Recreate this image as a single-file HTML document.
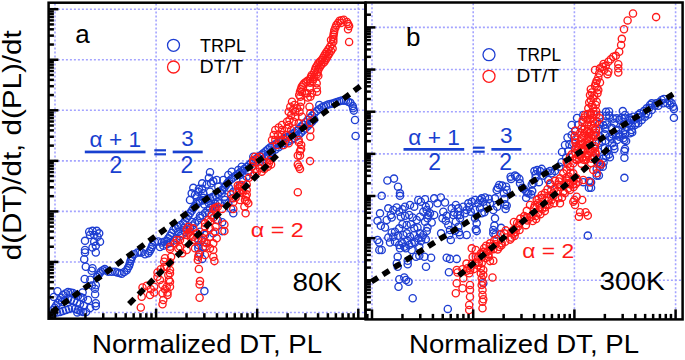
<!DOCTYPE html><html><head><meta charset="utf-8"><style>html,body{margin:0;padding:0;background:#fff;width:685px;height:360px;overflow:hidden}svg{display:block}text{font-family:"Liberation Sans",sans-serif}</style></head><body>
<svg width="685" height="360" viewBox="0 0 685 360">
<rect width="685" height="360" fill="#fff"/>
<g stroke="#a4a4ff" stroke-width="1.6" stroke-dasharray="2 2"><line x1="55.00" y1="3.40" x2="55.00" y2="317.40"/><line x1="156.10" y1="3.40" x2="156.10" y2="317.40"/><line x1="257.20" y1="3.40" x2="257.20" y2="317.40"/><line x1="358.30" y1="3.40" x2="358.30" y2="317.40"/><line x1="49.90" y1="9.20" x2="364.10" y2="9.20"/><line x1="49.90" y1="59.75" x2="364.10" y2="59.75"/><line x1="49.90" y1="110.30" x2="364.10" y2="110.30"/><line x1="49.90" y1="160.85" x2="364.10" y2="160.85"/><line x1="49.90" y1="211.40" x2="364.10" y2="211.40"/><line x1="49.90" y1="261.95" x2="364.10" y2="261.95"/><line x1="49.90" y1="312.50" x2="364.10" y2="312.50"/></g>
<g stroke="#a4a4ff" stroke-width="1.6" stroke-dasharray="2 2"><line x1="372.00" y1="3.20" x2="372.00" y2="318.10"/><line x1="473.20" y1="3.20" x2="473.20" y2="318.10"/><line x1="574.40" y1="3.20" x2="574.40" y2="318.10"/><line x1="675.60" y1="3.20" x2="675.60" y2="318.10"/><line x1="366.90" y1="27.40" x2="681.30" y2="27.40"/><line x1="366.90" y1="69.55" x2="681.30" y2="69.55"/><line x1="366.90" y1="111.70" x2="681.30" y2="111.70"/><line x1="366.90" y1="153.85" x2="681.30" y2="153.85"/><line x1="366.90" y1="196.00" x2="681.30" y2="196.00"/><line x1="366.90" y1="238.15" x2="681.30" y2="238.15"/><line x1="366.90" y1="280.30" x2="681.30" y2="280.30"/></g>
<g fill="none" stroke="#1e3ed2" stroke-width="1.35"><circle cx="53.0" cy="310.0" r="3.6"/><circle cx="54.7" cy="307.7" r="3.6"/><circle cx="56.3" cy="305.3" r="3.6"/><circle cx="58.0" cy="303.0" r="3.6"/><circle cx="59.7" cy="300.3" r="3.6"/><circle cx="61.3" cy="297.7" r="3.6"/><circle cx="63.0" cy="295.0" r="3.6"/><circle cx="65.5" cy="293.5" r="3.6"/><circle cx="68.0" cy="292.0" r="3.6"/><circle cx="70.5" cy="292.5" r="3.6"/><circle cx="73.0" cy="293.0" r="3.6"/><circle cx="75.5" cy="294.5" r="3.6"/><circle cx="78.0" cy="296.0" r="3.6"/><circle cx="80.5" cy="297.0" r="3.6"/><circle cx="83.0" cy="298.0" r="3.6"/><circle cx="54.0" cy="313.0" r="3.6"/><circle cx="57.0" cy="312.5" r="3.6"/><circle cx="60.0" cy="312.0" r="3.6"/><circle cx="63.0" cy="311.0" r="3.6"/><circle cx="66.0" cy="310.0" r="3.6"/><circle cx="69.0" cy="309.0" r="3.6"/><circle cx="72.0" cy="308.0" r="3.6"/><circle cx="75.0" cy="309.0" r="3.6"/><circle cx="78.0" cy="310.0" r="3.6"/><circle cx="80.5" cy="311.0" r="3.6"/><circle cx="83.0" cy="312.0" r="3.6"/><circle cx="62.0" cy="302.0" r="3.6"/><circle cx="65.0" cy="300.5" r="3.6"/><circle cx="68.0" cy="299.0" r="3.6"/><circle cx="71.0" cy="300.0" r="3.6"/><circle cx="74.0" cy="301.0" r="3.6"/><circle cx="77.0" cy="302.5" r="3.6"/><circle cx="80.0" cy="304.0" r="3.6"/><circle cx="84.0" cy="306.0" r="3.6"/><circle cx="57.5" cy="291.3" r="3.6"/><circle cx="53.8" cy="296.9" r="3.6"/><circle cx="84.7" cy="279.0" r="3.6"/><circle cx="90.3" cy="279.7" r="3.6"/><circle cx="95.8" cy="285.3" r="3.6"/><circle cx="95.1" cy="294.3" r="3.6"/><circle cx="95.8" cy="303.3" r="3.6"/><circle cx="95.8" cy="306.1" r="3.6"/><circle cx="91.7" cy="270.7" r="3.6"/><circle cx="94.9" cy="288.7" r="3.6"/><circle cx="91.8" cy="285.6" r="3.6"/><circle cx="82.6" cy="292.5" r="3.6"/><circle cx="77.3" cy="312.4" r="3.6"/><circle cx="88.0" cy="300.0" r="3.6"/><circle cx="90.0" cy="308.0" r="3.6"/><circle cx="86.0" cy="312.0" r="3.6"/><circle cx="89.2" cy="231.7" r="3.6"/><circle cx="92.5" cy="230.8" r="3.6"/><circle cx="96.7" cy="230.8" r="3.6"/><circle cx="99.2" cy="233.3" r="3.6"/><circle cx="94.2" cy="235.0" r="3.6"/><circle cx="90.0" cy="235.0" r="3.6"/><circle cx="97.5" cy="236.7" r="3.6"/><circle cx="85.0" cy="240.8" r="3.6"/><circle cx="94.2" cy="241.7" r="3.6"/><circle cx="100.0" cy="241.7" r="3.6"/><circle cx="95.8" cy="245.8" r="3.6"/><circle cx="92.5" cy="247.5" r="3.6"/><circle cx="95.8" cy="252.5" r="3.6"/><circle cx="85.0" cy="250.0" r="3.6"/><circle cx="85.0" cy="252.5" r="3.6"/><circle cx="84.2" cy="259.2" r="3.6"/><circle cx="85.8" cy="266.7" r="3.6"/><circle cx="92.5" cy="268.3" r="3.6"/><circle cx="97.0" cy="277.0" r="3.6"/><circle cx="98.3" cy="275.2" r="3.6"/><circle cx="99.7" cy="273.3" r="3.6"/><circle cx="101.0" cy="271.5" r="3.6"/><circle cx="102.9" cy="270.2" r="3.6"/><circle cx="104.8" cy="269.0" r="3.6"/><circle cx="106.5" cy="270.4" r="3.6"/><circle cx="108.3" cy="271.7" r="3.6"/><circle cx="111.7" cy="271.7" r="3.6"/><circle cx="115.0" cy="271.7" r="3.6"/><circle cx="117.2" cy="272.4" r="3.6"/><circle cx="119.5" cy="273.0" r="3.6"/><circle cx="121.7" cy="273.7" r="3.6"/><circle cx="124.2" cy="272.0" r="3.6"/><circle cx="126.7" cy="270.3" r="3.6"/><circle cx="127.8" cy="268.1" r="3.6"/><circle cx="129.0" cy="266.0" r="3.6"/><circle cx="129.8" cy="263.5" r="3.6"/><circle cx="130.5" cy="261.0" r="3.6"/><circle cx="131.2" cy="259.0" r="3.6"/><circle cx="132.0" cy="257.0" r="3.6"/><circle cx="134.2" cy="254.2" r="3.6"/><circle cx="137.5" cy="252.5" r="3.6"/><circle cx="139.6" cy="252.5" r="3.6"/><circle cx="141.7" cy="252.5" r="3.6"/><circle cx="145.0" cy="254.2" r="3.6"/><circle cx="148.3" cy="253.3" r="3.6"/><circle cx="149.6" cy="251.2" r="3.6"/><circle cx="150.8" cy="249.2" r="3.6"/><circle cx="151.7" cy="247.1" r="3.6"/><circle cx="152.5" cy="245.0" r="3.6"/><circle cx="155.0" cy="242.0" r="3.6"/><circle cx="158.3" cy="241.5" r="3.6"/><circle cx="161.7" cy="242.5" r="3.6"/><circle cx="164.2" cy="241.7" r="3.6"/><circle cx="166.7" cy="240.8" r="3.6"/><circle cx="168.3" cy="238.3" r="3.6"/><circle cx="170.0" cy="235.8" r="3.6"/><circle cx="171.7" cy="232.9" r="3.6"/><circle cx="173.3" cy="230.0" r="3.6"/><circle cx="175.8" cy="228.3" r="3.6"/><circle cx="178.3" cy="226.7" r="3.6"/><circle cx="180.8" cy="225.0" r="3.6"/><circle cx="183.3" cy="223.3" r="3.6"/><circle cx="185.0" cy="220.8" r="3.6"/><circle cx="186.7" cy="218.3" r="3.6"/><circle cx="188.3" cy="215.8" r="3.6"/><circle cx="190.0" cy="213.3" r="3.6"/><circle cx="191.7" cy="210.8" r="3.6"/><circle cx="193.3" cy="208.3" r="3.6"/><circle cx="195.0" cy="206.2" r="3.6"/><circle cx="196.7" cy="204.0" r="3.6"/><circle cx="198.3" cy="202.5" r="3.6"/><circle cx="200.0" cy="201.0" r="3.6"/><circle cx="202.5" cy="200.5" r="3.6"/><circle cx="205.0" cy="200.0" r="3.6"/><circle cx="207.5" cy="199.0" r="3.6"/><circle cx="210.0" cy="198.0" r="3.6"/><circle cx="212.8" cy="196.8" r="3.6"/><circle cx="215.6" cy="195.6" r="3.6"/><circle cx="217.8" cy="193.8" r="3.6"/><circle cx="220.0" cy="192.0" r="3.6"/><circle cx="222.2" cy="189.8" r="3.6"/><circle cx="224.4" cy="187.5" r="3.6"/><circle cx="225.9" cy="185.3" r="3.6"/><circle cx="227.4" cy="183.2" r="3.6"/><circle cx="228.9" cy="181.0" r="3.6"/><circle cx="231.1" cy="179.2" r="3.6"/><circle cx="233.3" cy="177.5" r="3.6"/><circle cx="235.5" cy="175.8" r="3.6"/><circle cx="237.8" cy="174.2" r="3.6"/><circle cx="240.0" cy="172.5" r="3.6"/><circle cx="242.2" cy="170.7" r="3.6"/><circle cx="244.5" cy="168.8" r="3.6"/><circle cx="246.7" cy="167.0" r="3.6"/><circle cx="248.9" cy="165.0" r="3.6"/><circle cx="251.1" cy="163.1" r="3.6"/><circle cx="253.3" cy="161.1" r="3.6"/><circle cx="255.6" cy="159.3" r="3.6"/><circle cx="257.8" cy="157.5" r="3.6"/><circle cx="259.6" cy="156.1" r="3.6"/><circle cx="261.5" cy="154.7" r="3.6"/><circle cx="263.3" cy="153.3" r="3.6"/><circle cx="265.5" cy="151.4" r="3.6"/><circle cx="267.8" cy="149.4" r="3.6"/><circle cx="270.0" cy="147.5" r="3.6"/><circle cx="272.2" cy="146.1" r="3.6"/><circle cx="274.5" cy="144.7" r="3.6"/><circle cx="276.7" cy="143.3" r="3.6"/><circle cx="278.9" cy="141.9" r="3.6"/><circle cx="281.1" cy="140.4" r="3.6"/><circle cx="283.3" cy="139.0" r="3.6"/><circle cx="285.5" cy="137.9" r="3.6"/><circle cx="287.8" cy="136.7" r="3.6"/><circle cx="290.0" cy="135.6" r="3.6"/><circle cx="292.2" cy="134.1" r="3.6"/><circle cx="294.5" cy="132.5" r="3.6"/><circle cx="296.7" cy="131.0" r="3.6"/><circle cx="298.9" cy="128.8" r="3.6"/><circle cx="301.1" cy="126.6" r="3.6"/><circle cx="303.3" cy="124.4" r="3.6"/><circle cx="305.6" cy="122.2" r="3.6"/><circle cx="307.8" cy="120.0" r="3.6"/><circle cx="310.0" cy="117.8" r="3.6"/><circle cx="312.2" cy="115.6" r="3.6"/><circle cx="314.4" cy="113.3" r="3.6"/><circle cx="316.7" cy="111.1" r="3.6"/><circle cx="319.1" cy="109.3" r="3.6"/><circle cx="321.6" cy="107.5" r="3.6"/><circle cx="323.8" cy="106.5" r="3.6"/><circle cx="326.0" cy="105.5" r="3.6"/><circle cx="328.2" cy="104.5" r="3.6"/><circle cx="330.4" cy="103.9" r="3.6"/><circle cx="332.7" cy="103.4" r="3.6"/><circle cx="334.9" cy="102.8" r="3.6"/><circle cx="337.1" cy="102.1" r="3.6"/><circle cx="339.4" cy="101.3" r="3.6"/><circle cx="341.6" cy="100.6" r="3.6"/><circle cx="343.8" cy="100.6" r="3.6"/><circle cx="346.0" cy="100.6" r="3.6"/><circle cx="348.2" cy="101.7" r="3.6"/><circle cx="350.4" cy="102.8" r="3.6"/><circle cx="352.7" cy="106.1" r="3.6"/><circle cx="353.2" cy="108.3" r="3.6"/><circle cx="353.8" cy="110.6" r="3.6"/><circle cx="259.8" cy="161.5" r="3.6"/><circle cx="262.6" cy="159.4" r="3.6"/><circle cx="265.3" cy="157.3" r="3.6"/><circle cx="267.5" cy="155.4" r="3.6"/><circle cx="269.8" cy="153.4" r="3.6"/><circle cx="272.0" cy="151.5" r="3.6"/><circle cx="275.4" cy="149.4" r="3.6"/><circle cx="278.7" cy="147.3" r="3.6"/><circle cx="282.0" cy="145.2" r="3.6"/><circle cx="285.3" cy="143.0" r="3.6"/><circle cx="288.6" cy="141.3" r="3.6"/><circle cx="292.0" cy="139.6" r="3.6"/><circle cx="294.2" cy="138.1" r="3.6"/><circle cx="296.5" cy="136.5" r="3.6"/><circle cx="298.7" cy="135.0" r="3.6"/><circle cx="300.9" cy="132.8" r="3.6"/><circle cx="303.1" cy="130.6" r="3.6"/><circle cx="305.3" cy="128.4" r="3.6"/><circle cx="307.6" cy="126.2" r="3.6"/><circle cx="309.8" cy="124.0" r="3.6"/><circle cx="312.0" cy="121.8" r="3.6"/><circle cx="314.2" cy="119.6" r="3.6"/><circle cx="355.0" cy="120.0" r="3.6"/><circle cx="216.7" cy="180.0" r="3.6"/><circle cx="218.3" cy="186.7" r="3.6"/><circle cx="221.7" cy="193.3" r="3.6"/><circle cx="228.3" cy="175.0" r="3.6"/><circle cx="231.7" cy="171.7" r="3.6"/><circle cx="238.3" cy="170.0" r="3.6"/><circle cx="241.7" cy="166.7" r="3.6"/><circle cx="248.3" cy="171.7" r="3.6"/><circle cx="246.7" cy="176.7" r="3.6"/><circle cx="243.3" cy="180.0" r="3.6"/><circle cx="251.7" cy="166.7" r="3.6"/><circle cx="253.3" cy="156.7" r="3.6"/><circle cx="225.0" cy="200.0" r="3.6"/><circle cx="231.7" cy="198.3" r="3.6"/><circle cx="220.0" cy="203.3" r="3.6"/><circle cx="228.3" cy="203.3" r="3.6"/><circle cx="233.3" cy="191.7" r="3.6"/><circle cx="240.0" cy="185.0" r="3.6"/><circle cx="236.7" cy="191.7" r="3.6"/><circle cx="223.3" cy="180.0" r="3.6"/><circle cx="240.0" cy="175.0" r="3.6"/><circle cx="160.0" cy="247.0" r="3.6"/><circle cx="163.3" cy="245.7" r="3.6"/><circle cx="166.7" cy="244.3" r="3.6"/><circle cx="170.0" cy="243.0" r="3.6"/><circle cx="173.3" cy="240.7" r="3.6"/><circle cx="176.7" cy="238.3" r="3.6"/><circle cx="180.0" cy="236.0" r="3.6"/><circle cx="182.5" cy="234.0" r="3.6"/><circle cx="185.0" cy="232.0" r="3.6"/><circle cx="187.5" cy="230.0" r="3.6"/><circle cx="190.0" cy="228.0" r="3.6"/><circle cx="192.5" cy="225.5" r="3.6"/><circle cx="195.0" cy="223.0" r="3.6"/><circle cx="197.5" cy="220.5" r="3.6"/><circle cx="200.0" cy="218.0" r="3.6"/><circle cx="202.5" cy="215.5" r="3.6"/><circle cx="205.0" cy="213.0" r="3.6"/><circle cx="207.5" cy="210.5" r="3.6"/><circle cx="210.0" cy="208.0" r="3.6"/><circle cx="212.7" cy="206.0" r="3.6"/><circle cx="215.3" cy="204.0" r="3.6"/><circle cx="218.0" cy="202.0" r="3.6"/><circle cx="190.0" cy="200.0" r="3.6"/><circle cx="191.7" cy="193.3" r="3.6"/><circle cx="195.0" cy="195.0" r="3.6"/><circle cx="198.3" cy="191.7" r="3.6"/><circle cx="203.3" cy="193.3" r="3.6"/><circle cx="210.0" cy="191.7" r="3.6"/><circle cx="215.0" cy="206.7" r="3.6"/><circle cx="200.0" cy="231.7" r="3.6"/><circle cx="205.0" cy="235.0" r="3.6"/><circle cx="201.7" cy="240.0" r="3.6"/><circle cx="198.3" cy="245.0" r="3.6"/><circle cx="203.3" cy="246.7" r="3.6"/><circle cx="355.6" cy="136.0" r="3.6"/><circle cx="319.3" cy="105.0" r="3.6"/><circle cx="210.0" cy="172.2" r="3.6"/><circle cx="208.9" cy="177.8" r="3.6"/><circle cx="211.1" cy="183.3" r="3.6"/><circle cx="202.2" cy="183.3" r="3.6"/><circle cx="198.9" cy="188.9" r="3.6"/><circle cx="193.3" cy="187.8" r="3.6"/><circle cx="196.7" cy="196.7" r="3.6"/><circle cx="208.9" cy="203.3" r="3.6"/><circle cx="213.3" cy="181.1" r="3.6"/><circle cx="206.7" cy="184.4" r="3.6"/><circle cx="202.2" cy="188.9" r="3.6"/><circle cx="203.3" cy="197.8" r="3.6"/><circle cx="204.4" cy="204.4" r="3.6"/><circle cx="208.9" cy="213.3" r="3.6"/><circle cx="217.8" cy="220.0" r="3.6"/><circle cx="222.2" cy="222.2" r="3.6"/><circle cx="222.2" cy="231.1" r="3.6"/><circle cx="213.3" cy="233.3" r="3.6"/><circle cx="231.1" cy="208.9" r="3.6"/><circle cx="233.3" cy="213.3" r="3.6"/><circle cx="228.9" cy="187.8" r="3.6"/><circle cx="224.4" cy="196.7" r="3.6"/><circle cx="198.3" cy="248.3" r="3.6"/><circle cx="200.0" cy="253.3" r="3.6"/><circle cx="198.3" cy="240.0" r="3.6"/><circle cx="202.2" cy="258.9" r="3.6"/><circle cx="204.4" cy="291.1" r="3.6"/><circle cx="178.0" cy="232.0" r="3.6"/><circle cx="184.0" cy="228.0" r="3.6"/><circle cx="192.0" cy="222.0" r="3.6"/><circle cx="200.0" cy="216.0" r="3.6"/></g>
<g fill="none" stroke="#ff1a1a" stroke-width="1.35"><circle cx="140.8" cy="307.5" r="3.6"/><circle cx="141.7" cy="296.7" r="3.6"/><circle cx="142.5" cy="287.5" r="3.6"/><circle cx="146.7" cy="285.8" r="3.6"/><circle cx="150.8" cy="289.2" r="3.6"/><circle cx="150.0" cy="295.0" r="3.6"/><circle cx="154.2" cy="292.5" r="3.6"/><circle cx="154.2" cy="286.7" r="3.6"/><circle cx="157.5" cy="276.7" r="3.6"/><circle cx="160.0" cy="280.0" r="3.6"/><circle cx="162.5" cy="285.0" r="3.6"/><circle cx="165.0" cy="289.2" r="3.6"/><circle cx="167.5" cy="292.5" r="3.6"/><circle cx="162.5" cy="293.3" r="3.6"/><circle cx="163.3" cy="300.0" r="3.6"/><circle cx="162.5" cy="304.2" r="3.6"/><circle cx="164.2" cy="261.7" r="3.6"/><circle cx="166.7" cy="266.7" r="3.6"/><circle cx="170.0" cy="270.0" r="3.6"/><circle cx="168.3" cy="275.0" r="3.6"/><circle cx="160.8" cy="269.2" r="3.6"/><circle cx="157.5" cy="272.5" r="3.6"/><circle cx="170.0" cy="281.7" r="3.6"/><circle cx="170.0" cy="286.7" r="3.6"/><circle cx="167.5" cy="295.0" r="3.6"/><circle cx="166.7" cy="286.7" r="3.6"/><circle cx="168.9" cy="280.0" r="3.6"/><circle cx="170.0" cy="273.3" r="3.6"/><circle cx="164.4" cy="266.7" r="3.6"/><circle cx="170.0" cy="262.2" r="3.6"/><circle cx="171.1" cy="256.7" r="3.6"/><circle cx="170.0" cy="248.9" r="3.6"/><circle cx="165.0" cy="258.3" r="3.6"/><circle cx="176.7" cy="240.0" r="3.6"/><circle cx="178.3" cy="248.3" r="3.6"/><circle cx="185.0" cy="241.7" r="3.6"/><circle cx="180.0" cy="246.7" r="3.6"/><circle cx="182.2" cy="253.3" r="3.6"/><circle cx="186.7" cy="250.0" r="3.6"/><circle cx="238.3" cy="188.3" r="3.6"/><circle cx="241.7" cy="185.0" r="3.6"/><circle cx="243.3" cy="191.7" r="3.6"/><circle cx="246.7" cy="190.0" r="3.6"/><circle cx="245.8" cy="196.7" r="3.6"/><circle cx="245.0" cy="200.0" r="3.6"/><circle cx="248.3" cy="203.3" r="3.6"/><circle cx="240.0" cy="200.0" r="3.6"/><circle cx="256.7" cy="171.7" r="3.6"/><circle cx="260.0" cy="168.3" r="3.6"/><circle cx="261.7" cy="171.7" r="3.6"/><circle cx="253.3" cy="160.0" r="3.6"/><circle cx="255.0" cy="156.7" r="3.6"/><circle cx="260.0" cy="156.7" r="3.6"/><circle cx="233.3" cy="198.3" r="3.6"/><circle cx="215.0" cy="210.0" r="3.6"/><circle cx="211.7" cy="215.0" r="3.6"/><circle cx="216.7" cy="220.0" r="3.6"/><circle cx="208.3" cy="220.0" r="3.6"/><circle cx="205.0" cy="223.3" r="3.6"/><circle cx="210.0" cy="228.3" r="3.6"/><circle cx="215.0" cy="231.7" r="3.6"/><circle cx="216.7" cy="238.3" r="3.6"/><circle cx="213.3" cy="243.3" r="3.6"/><circle cx="206.7" cy="243.3" r="3.6"/><circle cx="203.3" cy="238.3" r="3.6"/><circle cx="193.3" cy="228.3" r="3.6"/><circle cx="190.0" cy="231.7" r="3.6"/><circle cx="186.7" cy="235.0" r="3.6"/><circle cx="193.3" cy="236.7" r="3.6"/><circle cx="198.3" cy="240.0" r="3.6"/><circle cx="180.0" cy="240.0" r="3.6"/><circle cx="175.0" cy="243.3" r="3.6"/><circle cx="170.0" cy="246.7" r="3.6"/><circle cx="195.0" cy="248.3" r="3.6"/><circle cx="188.3" cy="226.7" r="3.6"/><circle cx="196.7" cy="233.3" r="3.6"/><circle cx="186.7" cy="229.2" r="3.6"/><circle cx="188.3" cy="233.3" r="3.6"/><circle cx="190.8" cy="235.8" r="3.6"/><circle cx="195.0" cy="240.0" r="3.6"/><circle cx="210.0" cy="236.7" r="3.6"/><circle cx="205.0" cy="226.7" r="3.6"/><circle cx="210.0" cy="221.7" r="3.6"/><circle cx="210.0" cy="248.3" r="3.6"/><circle cx="205.0" cy="255.0" r="3.6"/><circle cx="198.3" cy="256.7" r="3.6"/><circle cx="198.9" cy="254.4" r="3.6"/><circle cx="197.8" cy="260.0" r="3.6"/><circle cx="198.9" cy="268.9" r="3.6"/><circle cx="200.0" cy="281.1" r="3.6"/><circle cx="199.6" cy="284.4" r="3.6"/><circle cx="199.6" cy="297.8" r="3.6"/><circle cx="204.4" cy="242.2" r="3.6"/><circle cx="205.6" cy="246.7" r="3.6"/><circle cx="213.3" cy="250.0" r="3.6"/><circle cx="213.3" cy="256.7" r="3.6"/><circle cx="214.4" cy="261.1" r="3.6"/><circle cx="213.3" cy="208.9" r="3.6"/><circle cx="217.8" cy="206.7" r="3.6"/><circle cx="222.2" cy="208.9" r="3.6"/><circle cx="213.3" cy="217.8" r="3.6"/><circle cx="224.4" cy="224.4" r="3.6"/><circle cx="224.4" cy="231.1" r="3.6"/><circle cx="215.6" cy="226.7" r="3.6"/><circle cx="204.4" cy="233.3" r="3.6"/><circle cx="215.6" cy="207.8" r="3.6"/><circle cx="233.3" cy="202.2" r="3.6"/><circle cx="235.6" cy="197.8" r="3.6"/><circle cx="233.3" cy="208.9" r="3.6"/><circle cx="238.9" cy="191.1" r="3.6"/><circle cx="244.4" cy="206.7" r="3.6"/><circle cx="245.6" cy="213.3" r="3.6"/><circle cx="240.0" cy="186.7" r="3.6"/><circle cx="246.7" cy="184.4" r="3.6"/><circle cx="231.1" cy="194.4" r="3.6"/><circle cx="237.8" cy="185.6" r="3.6"/><circle cx="242.2" cy="190.0" r="3.6"/><circle cx="246.7" cy="194.4" r="3.6"/><circle cx="246.7" cy="201.1" r="3.6"/><circle cx="253.3" cy="162.2" r="3.6"/><circle cx="255.6" cy="168.9" r="3.6"/><circle cx="266.7" cy="162.2" r="3.6"/><circle cx="271.1" cy="164.4" r="3.6"/><circle cx="264.4" cy="168.9" r="3.6"/><circle cx="253.3" cy="175.6" r="3.6"/><circle cx="248.9" cy="177.8" r="3.6"/><circle cx="257.8" cy="158.9" r="3.6"/><circle cx="252.2" cy="166.7" r="3.6"/><circle cx="263.3" cy="162.2" r="3.6"/><circle cx="270.0" cy="160.0" r="3.6"/><circle cx="267.8" cy="166.7" r="3.6"/><circle cx="268.9" cy="163.3" r="3.6"/><circle cx="310.3" cy="96.7" r="3.6"/><circle cx="309.5" cy="106.7" r="3.6"/><circle cx="310.3" cy="113.3" r="3.6"/><circle cx="310.3" cy="130.0" r="3.6"/><circle cx="310.3" cy="136.7" r="3.6"/><circle cx="302.0" cy="91.7" r="3.6"/><circle cx="300.3" cy="96.7" r="3.6"/><circle cx="301.2" cy="101.7" r="3.6"/><circle cx="300.3" cy="106.7" r="3.6"/><circle cx="299.5" cy="111.7" r="3.6"/><circle cx="302.0" cy="116.7" r="3.6"/><circle cx="298.7" cy="123.3" r="3.6"/><circle cx="298.7" cy="140.0" r="3.6"/><circle cx="301.2" cy="145.0" r="3.6"/><circle cx="307.0" cy="93.3" r="3.6"/><circle cx="312.0" cy="93.3" r="3.6"/><circle cx="317.0" cy="91.7" r="3.6"/><circle cx="307.8" cy="97.5" r="3.6"/><circle cx="292.0" cy="101.7" r="3.6"/><circle cx="294.5" cy="105.0" r="3.6"/><circle cx="290.3" cy="106.7" r="3.6"/><circle cx="292.8" cy="110.0" r="3.6"/><circle cx="288.7" cy="111.7" r="3.6"/><circle cx="295.3" cy="111.7" r="3.6"/><circle cx="291.2" cy="115.0" r="3.6"/><circle cx="295.3" cy="116.7" r="3.6"/><circle cx="289.5" cy="120.0" r="3.6"/><circle cx="293.7" cy="121.7" r="3.6"/><circle cx="288.7" cy="125.0" r="3.6"/><circle cx="291.2" cy="130.0" r="3.6"/><circle cx="287.0" cy="128.3" r="3.6"/><circle cx="275.3" cy="130.0" r="3.6"/><circle cx="278.7" cy="127.5" r="3.6"/><circle cx="282.0" cy="130.0" r="3.6"/><circle cx="273.7" cy="135.0" r="3.6"/><circle cx="277.8" cy="135.0" r="3.6"/><circle cx="282.0" cy="135.0" r="3.6"/><circle cx="286.2" cy="135.0" r="3.6"/><circle cx="275.3" cy="140.0" r="3.6"/><circle cx="280.3" cy="140.0" r="3.6"/><circle cx="285.3" cy="140.0" r="3.6"/><circle cx="277.0" cy="145.0" r="3.6"/><circle cx="283.7" cy="145.0" r="3.6"/><circle cx="288.7" cy="143.3" r="3.6"/><circle cx="297.0" cy="108.3" r="3.6"/><circle cx="287.0" cy="121.7" r="3.6"/><circle cx="282.0" cy="125.0" r="3.6"/><circle cx="272.0" cy="140.0" r="3.6"/><circle cx="310.0" cy="161.1" r="3.6"/><circle cx="298.9" cy="142.2" r="3.6"/><circle cx="301.1" cy="148.9" r="3.6"/><circle cx="300.0" cy="155.6" r="3.6"/><circle cx="297.8" cy="164.4" r="3.6"/><circle cx="298.9" cy="166.7" r="3.6"/><circle cx="300.0" cy="168.9" r="3.6"/><circle cx="297.8" cy="155.6" r="3.6"/><circle cx="300.0" cy="151.1" r="3.6"/><circle cx="297.8" cy="192.2" r="3.6"/><circle cx="310.0" cy="122.2" r="3.6"/><circle cx="299.2" cy="95.0" r="3.6"/><circle cx="300.0" cy="91.7" r="3.6"/><circle cx="300.9" cy="89.2" r="3.6"/><circle cx="301.7" cy="86.7" r="3.6"/><circle cx="302.9" cy="85.0" r="3.6"/><circle cx="304.2" cy="83.3" r="3.6"/><circle cx="305.9" cy="82.0" r="3.6"/><circle cx="307.5" cy="80.8" r="3.6"/><circle cx="310.0" cy="79.2" r="3.6"/><circle cx="310.9" cy="77.1" r="3.6"/><circle cx="311.7" cy="75.0" r="3.6"/><circle cx="314.2" cy="72.5" r="3.6"/><circle cx="315.0" cy="70.0" r="3.6"/><circle cx="315.8" cy="67.5" r="3.6"/><circle cx="317.1" cy="65.4" r="3.6"/><circle cx="318.3" cy="63.3" r="3.6"/><circle cx="320.0" cy="61.6" r="3.6"/><circle cx="321.7" cy="60.0" r="3.6"/><circle cx="322.9" cy="57.9" r="3.6"/><circle cx="324.2" cy="55.8" r="3.6"/><circle cx="325.4" cy="53.8" r="3.6"/><circle cx="326.7" cy="51.7" r="3.6"/><circle cx="328.4" cy="49.2" r="3.6"/><circle cx="330.0" cy="46.7" r="3.6"/><circle cx="331.6" cy="44.2" r="3.6"/><circle cx="333.3" cy="41.7" r="3.6"/><circle cx="310.1" cy="82.7" r="3.6"/><circle cx="312.6" cy="81.1" r="3.6"/><circle cx="313.5" cy="79.0" r="3.6"/><circle cx="314.3" cy="76.9" r="3.6"/><circle cx="316.8" cy="74.4" r="3.6"/><circle cx="317.6" cy="71.9" r="3.6"/><circle cx="318.4" cy="69.4" r="3.6"/><circle cx="319.7" cy="67.3" r="3.6"/><circle cx="320.9" cy="65.2" r="3.6"/><circle cx="322.6" cy="63.5" r="3.6"/><circle cx="324.3" cy="61.9" r="3.6"/><circle cx="325.6" cy="59.8" r="3.6"/><circle cx="326.8" cy="57.7" r="3.6"/><circle cx="328.1" cy="55.6" r="3.6"/><circle cx="329.3" cy="53.6" r="3.6"/><circle cx="331.0" cy="51.1" r="3.6"/><circle cx="332.6" cy="48.6" r="3.6"/><circle cx="316.7" cy="83.3" r="3.6"/><circle cx="316.7" cy="88.3" r="3.6"/><circle cx="310.0" cy="88.3" r="3.6"/><circle cx="305.0" cy="93.3" r="3.6"/><circle cx="318.3" cy="75.8" r="3.6"/><circle cx="333.3" cy="39.2" r="3.6"/><circle cx="333.3" cy="36.7" r="3.6"/><circle cx="333.6" cy="34.6" r="3.6"/><circle cx="334.0" cy="32.4" r="3.6"/><circle cx="334.3" cy="30.3" r="3.6"/><circle cx="335.4" cy="27.6" r="3.6"/><circle cx="336.4" cy="25.0" r="3.6"/><circle cx="338.0" cy="22.9" r="3.6"/><circle cx="339.6" cy="20.8" r="3.6"/><circle cx="341.7" cy="20.3" r="3.6"/><circle cx="343.8" cy="19.8" r="3.6"/><circle cx="347.0" cy="21.9" r="3.6"/><circle cx="348.1" cy="24.0" r="3.6"/><circle cx="349.1" cy="26.1" r="3.6"/><circle cx="348.0" cy="29.3" r="3.6"/><circle cx="331.0" cy="40.0" r="3.6"/><circle cx="341.0" cy="23.0" r="3.6"/><circle cx="349.1" cy="41.9" r="3.6"/></g>
<g fill="none" stroke="#1e3ed2" stroke-width="1.35"><circle cx="381.7" cy="195.8" r="3.6"/><circle cx="400.0" cy="195.8" r="3.6"/><circle cx="380.0" cy="213.3" r="3.6"/><circle cx="377.5" cy="220.8" r="3.6"/><circle cx="380.8" cy="225.8" r="3.6"/><circle cx="385.0" cy="227.5" r="3.6"/><circle cx="377.5" cy="240.0" r="3.6"/><circle cx="379.2" cy="242.5" r="3.6"/><circle cx="381.7" cy="250.0" r="3.6"/><circle cx="388.3" cy="208.3" r="3.6"/><circle cx="390.8" cy="215.0" r="3.6"/><circle cx="393.3" cy="210.0" r="3.6"/><circle cx="396.7" cy="207.5" r="3.6"/><circle cx="399.2" cy="211.7" r="3.6"/><circle cx="402.5" cy="209.2" r="3.6"/><circle cx="405.0" cy="206.7" r="3.6"/><circle cx="410.0" cy="205.0" r="3.6"/><circle cx="414.2" cy="206.7" r="3.6"/><circle cx="418.3" cy="200.0" r="3.6"/><circle cx="420.8" cy="201.7" r="3.6"/><circle cx="425.0" cy="199.2" r="3.6"/><circle cx="425.8" cy="206.7" r="3.6"/><circle cx="423.3" cy="211.7" r="3.6"/><circle cx="428.3" cy="215.0" r="3.6"/><circle cx="386.7" cy="220.0" r="3.6"/><circle cx="391.7" cy="217.5" r="3.6"/><circle cx="400.8" cy="216.7" r="3.6"/><circle cx="405.0" cy="215.8" r="3.6"/><circle cx="409.2" cy="215.0" r="3.6"/><circle cx="412.5" cy="217.5" r="3.6"/><circle cx="416.7" cy="220.0" r="3.6"/><circle cx="420.0" cy="216.7" r="3.6"/><circle cx="425.0" cy="221.7" r="3.6"/><circle cx="427.5" cy="227.5" r="3.6"/><circle cx="391.7" cy="232.5" r="3.6"/><circle cx="395.0" cy="231.7" r="3.6"/><circle cx="399.2" cy="228.3" r="3.6"/><circle cx="402.5" cy="224.2" r="3.6"/><circle cx="406.7" cy="225.0" r="3.6"/><circle cx="410.8" cy="224.2" r="3.6"/><circle cx="414.2" cy="228.3" r="3.6"/><circle cx="417.5" cy="227.5" r="3.6"/><circle cx="420.0" cy="233.3" r="3.6"/><circle cx="423.3" cy="235.0" r="3.6"/><circle cx="388.3" cy="237.5" r="3.6"/><circle cx="393.3" cy="236.7" r="3.6"/><circle cx="398.3" cy="235.8" r="3.6"/><circle cx="403.3" cy="235.0" r="3.6"/><circle cx="406.7" cy="233.3" r="3.6"/><circle cx="410.0" cy="236.7" r="3.6"/><circle cx="414.2" cy="235.0" r="3.6"/><circle cx="418.3" cy="238.3" r="3.6"/><circle cx="421.7" cy="237.5" r="3.6"/><circle cx="390.0" cy="242.5" r="3.6"/><circle cx="395.0" cy="241.7" r="3.6"/><circle cx="399.2" cy="245.0" r="3.6"/><circle cx="402.5" cy="243.3" r="3.6"/><circle cx="407.5" cy="240.8" r="3.6"/><circle cx="411.7" cy="243.3" r="3.6"/><circle cx="415.0" cy="242.5" r="3.6"/><circle cx="400.0" cy="248.3" r="3.6"/><circle cx="405.8" cy="248.3" r="3.6"/><circle cx="411.7" cy="250.0" r="3.6"/><circle cx="434.2" cy="198.3" r="3.6"/><circle cx="440.8" cy="197.5" r="3.6"/><circle cx="445.0" cy="202.5" r="3.6"/><circle cx="437.5" cy="203.3" r="3.6"/><circle cx="429.2" cy="205.0" r="3.6"/><circle cx="426.7" cy="210.0" r="3.6"/><circle cx="430.0" cy="213.3" r="3.6"/><circle cx="434.2" cy="215.0" r="3.6"/><circle cx="427.5" cy="218.3" r="3.6"/><circle cx="431.7" cy="222.5" r="3.6"/><circle cx="425.8" cy="239.2" r="3.6"/><circle cx="443.3" cy="211.7" r="3.6"/><circle cx="446.7" cy="215.8" r="3.6"/><circle cx="442.5" cy="218.3" r="3.6"/><circle cx="445.8" cy="220.8" r="3.6"/><circle cx="448.3" cy="225.0" r="3.6"/><circle cx="450.0" cy="230.0" r="3.6"/><circle cx="449.2" cy="235.0" r="3.6"/><circle cx="450.8" cy="240.0" r="3.6"/><circle cx="451.7" cy="208.3" r="3.6"/><circle cx="455.8" cy="205.0" r="3.6"/><circle cx="458.3" cy="208.3" r="3.6"/><circle cx="454.2" cy="212.5" r="3.6"/><circle cx="457.5" cy="215.0" r="3.6"/><circle cx="460.0" cy="218.3" r="3.6"/><circle cx="455.8" cy="221.7" r="3.6"/><circle cx="458.3" cy="226.7" r="3.6"/><circle cx="455.0" cy="230.8" r="3.6"/><circle cx="463.3" cy="206.7" r="3.6"/><circle cx="466.7" cy="210.0" r="3.6"/><circle cx="465.0" cy="213.3" r="3.6"/><circle cx="469.2" cy="206.7" r="3.6"/><circle cx="471.7" cy="201.7" r="3.6"/><circle cx="475.0" cy="200.0" r="3.6"/><circle cx="478.3" cy="203.3" r="3.6"/><circle cx="481.7" cy="198.3" r="3.6"/><circle cx="483.3" cy="201.7" r="3.6"/><circle cx="470.8" cy="211.7" r="3.6"/><circle cx="475.0" cy="210.0" r="3.6"/><circle cx="480.0" cy="208.3" r="3.6"/><circle cx="481.7" cy="213.3" r="3.6"/><circle cx="475.0" cy="218.3" r="3.6"/><circle cx="476.7" cy="223.3" r="3.6"/><circle cx="475.8" cy="229.2" r="3.6"/><circle cx="466.7" cy="235.0" r="3.6"/><circle cx="460.0" cy="235.0" r="3.6"/><circle cx="468.3" cy="203.3" r="3.6"/><circle cx="480.0" cy="200.0" r="3.6"/><circle cx="485.0" cy="197.5" r="3.6"/><circle cx="490.0" cy="203.3" r="3.6"/><circle cx="495.0" cy="198.3" r="3.6"/><circle cx="496.7" cy="190.0" r="3.6"/><circle cx="499.2" cy="185.0" r="3.6"/><circle cx="493.3" cy="210.0" r="3.6"/><circle cx="495.0" cy="218.3" r="3.6"/><circle cx="460.0" cy="215.0" r="3.6"/><circle cx="453.3" cy="215.0" r="3.6"/><circle cx="387.4" cy="180.5" r="3.6"/><circle cx="394.0" cy="178.6" r="3.6"/><circle cx="398.0" cy="186.7" r="3.6"/><circle cx="400.0" cy="193.3" r="3.6"/><circle cx="397.7" cy="256.7" r="3.6"/><circle cx="396.8" cy="263.3" r="3.6"/><circle cx="407.7" cy="260.8" r="3.6"/><circle cx="407.7" cy="264.2" r="3.6"/><circle cx="416.0" cy="256.7" r="3.6"/><circle cx="419.3" cy="255.8" r="3.6"/><circle cx="426.0" cy="266.7" r="3.6"/><circle cx="399.3" cy="279.2" r="3.6"/><circle cx="404.3" cy="277.5" r="3.6"/><circle cx="408.5" cy="281.7" r="3.6"/><circle cx="398.5" cy="286.7" r="3.6"/><circle cx="412.7" cy="298.3" r="3.6"/><circle cx="409.3" cy="245.0" r="3.6"/><circle cx="404.3" cy="246.7" r="3.6"/><circle cx="419.3" cy="246.7" r="3.6"/><circle cx="421.1" cy="241.1" r="3.6"/><circle cx="424.4" cy="256.7" r="3.6"/><circle cx="431.1" cy="257.8" r="3.6"/><circle cx="446.7" cy="257.8" r="3.6"/><circle cx="450.0" cy="258.9" r="3.6"/><circle cx="456.7" cy="258.9" r="3.6"/><circle cx="448.9" cy="272.2" r="3.6"/><circle cx="441.1" cy="233.3" r="3.6"/><circle cx="458.9" cy="232.2" r="3.6"/><circle cx="476.7" cy="231.1" r="3.6"/><circle cx="493.3" cy="233.3" r="3.6"/><circle cx="483.3" cy="283.3" r="3.6"/><circle cx="447.8" cy="308.9" r="3.6"/><circle cx="426.7" cy="231.1" r="3.6"/><circle cx="379.3" cy="250.0" r="3.6"/><circle cx="397.7" cy="266.7" r="3.6"/><circle cx="406.0" cy="280.0" r="3.6"/><circle cx="488.9" cy="198.9" r="3.6"/><circle cx="497.8" cy="187.8" r="3.6"/><circle cx="502.2" cy="185.6" r="3.6"/><circle cx="506.7" cy="190.0" r="3.6"/><circle cx="504.4" cy="198.9" r="3.6"/><circle cx="506.7" cy="205.6" r="3.6"/><circle cx="505.6" cy="208.9" r="3.6"/><circle cx="511.1" cy="178.9" r="3.6"/><circle cx="516.7" cy="176.7" r="3.6"/><circle cx="520.0" cy="183.3" r="3.6"/><circle cx="522.2" cy="187.8" r="3.6"/><circle cx="526.7" cy="192.2" r="3.6"/><circle cx="531.1" cy="194.4" r="3.6"/><circle cx="533.3" cy="183.3" r="3.6"/><circle cx="535.6" cy="174.4" r="3.6"/><circle cx="540.0" cy="171.1" r="3.6"/><circle cx="546.7" cy="172.2" r="3.6"/><circle cx="494.4" cy="225.6" r="3.6"/><circle cx="493.3" cy="230.0" r="3.6"/><circle cx="501.1" cy="227.8" r="3.6"/><circle cx="495.6" cy="234.4" r="3.6"/><circle cx="486.7" cy="205.6" r="3.6"/><circle cx="484.4" cy="212.2" r="3.6"/><circle cx="506.1" cy="186.7" r="3.6"/><circle cx="503.9" cy="193.3" r="3.6"/><circle cx="505.0" cy="204.4" r="3.6"/><circle cx="497.2" cy="206.7" r="3.6"/><circle cx="510.6" cy="176.7" r="3.6"/><circle cx="515.0" cy="175.6" r="3.6"/><circle cx="519.4" cy="178.9" r="3.6"/><circle cx="523.9" cy="188.9" r="3.6"/><circle cx="528.3" cy="193.3" r="3.6"/><circle cx="526.1" cy="197.8" r="3.6"/><circle cx="531.7" cy="184.4" r="3.6"/><circle cx="537.2" cy="170.0" r="3.6"/><circle cx="541.7" cy="168.9" r="3.6"/><circle cx="551.7" cy="173.3" r="3.6"/><circle cx="555.0" cy="171.1" r="3.6"/><circle cx="559.4" cy="166.7" r="3.6"/><circle cx="561.7" cy="162.2" r="3.6"/><circle cx="566.1" cy="157.8" r="3.6"/><circle cx="568.3" cy="151.1" r="3.6"/><circle cx="569.4" cy="144.4" r="3.6"/><circle cx="548.3" cy="180.0" r="3.6"/><circle cx="550.6" cy="184.4" r="3.6"/><circle cx="534.4" cy="171.1" r="3.6"/><circle cx="550.0" cy="171.1" r="3.6"/><circle cx="532.2" cy="191.1" r="3.6"/><circle cx="538.9" cy="182.2" r="3.6"/><circle cx="583.3" cy="182.2" r="3.6"/><circle cx="588.9" cy="181.1" r="3.6"/><circle cx="588.9" cy="187.8" r="3.6"/><circle cx="596.7" cy="168.9" r="3.6"/><circle cx="598.9" cy="175.6" r="3.6"/><circle cx="587.8" cy="235.6" r="3.6"/><circle cx="535.6" cy="177.8" r="3.6"/><circle cx="543.3" cy="175.6" r="3.6"/><circle cx="571.7" cy="125.0" r="3.6"/><circle cx="578.3" cy="125.0" r="3.6"/><circle cx="567.5" cy="137.5" r="3.6"/><circle cx="571.7" cy="135.0" r="3.6"/><circle cx="565.0" cy="145.0" r="3.6"/><circle cx="573.3" cy="143.3" r="3.6"/><circle cx="575.0" cy="131.0" r="3.6"/><circle cx="562.0" cy="152.0" r="3.6"/><circle cx="577.0" cy="118.0" r="3.6"/><circle cx="608.3" cy="149.4" r="3.6"/><circle cx="613.3" cy="118.6" r="3.6"/><circle cx="603.1" cy="158.6" r="3.6"/><circle cx="614.0" cy="146.1" r="3.6"/><circle cx="599.8" cy="136.4" r="3.6"/><circle cx="600.2" cy="164.4" r="3.6"/><circle cx="597.5" cy="159.1" r="3.6"/><circle cx="597.9" cy="151.2" r="3.6"/><circle cx="604.8" cy="134.3" r="3.6"/><circle cx="609.2" cy="115.5" r="3.6"/><circle cx="599.5" cy="128.8" r="3.6"/><circle cx="611.5" cy="138.6" r="3.6"/><circle cx="606.0" cy="111.8" r="3.6"/><circle cx="599.0" cy="124.1" r="3.6"/><circle cx="605.4" cy="140.7" r="3.6"/><circle cx="617.1" cy="140.0" r="3.6"/><circle cx="606.1" cy="156.3" r="3.6"/><circle cx="598.7" cy="143.0" r="3.6"/><circle cx="604.9" cy="148.2" r="3.6"/><circle cx="605.5" cy="121.4" r="3.6"/><circle cx="616.0" cy="130.5" r="3.6"/><circle cx="609.1" cy="111.4" r="3.6"/><circle cx="602.0" cy="141.6" r="3.6"/><circle cx="602.8" cy="166.8" r="3.6"/><circle cx="619.3" cy="119.7" r="3.6"/><circle cx="603.6" cy="162.4" r="3.6"/><circle cx="614.3" cy="122.8" r="3.6"/><circle cx="603.4" cy="125.3" r="3.6"/><circle cx="606.9" cy="124.5" r="3.6"/><circle cx="615.8" cy="135.1" r="3.6"/><circle cx="609.9" cy="157.3" r="3.6"/><circle cx="605.9" cy="115.9" r="3.6"/><circle cx="605.2" cy="128.7" r="3.6"/><circle cx="599.7" cy="115.4" r="3.6"/><circle cx="622.8" cy="111.1" r="3.6"/><circle cx="621.7" cy="117.8" r="3.6"/><circle cx="629.4" cy="117.8" r="3.6"/><circle cx="628.3" cy="123.3" r="3.6"/><circle cx="633.9" cy="120.0" r="3.6"/><circle cx="640.6" cy="116.7" r="3.6"/><circle cx="643.9" cy="111.1" r="3.6"/><circle cx="648.3" cy="114.4" r="3.6"/><circle cx="651.7" cy="103.3" r="3.6"/><circle cx="655.0" cy="105.6" r="3.6"/><circle cx="659.4" cy="102.2" r="3.6"/><circle cx="663.9" cy="98.9" r="3.6"/><circle cx="667.2" cy="103.3" r="3.6"/><circle cx="671.7" cy="103.3" r="3.6"/><circle cx="673.9" cy="108.9" r="3.6"/><circle cx="673.9" cy="117.8" r="3.6"/><circle cx="611.7" cy="127.8" r="3.6"/><circle cx="618.3" cy="130.0" r="3.6"/><circle cx="622.8" cy="125.6" r="3.6"/><circle cx="625.0" cy="134.4" r="3.6"/><circle cx="631.7" cy="130.0" r="3.6"/><circle cx="626.1" cy="141.1" r="3.6"/><circle cx="609.4" cy="136.7" r="3.6"/><circle cx="625.0" cy="148.9" r="3.6"/><circle cx="636.1" cy="123.3" r="3.6"/><circle cx="638.3" cy="117.8" r="3.6"/><circle cx="646.1" cy="113.3" r="3.6"/><circle cx="649.4" cy="107.8" r="3.6"/><circle cx="656.1" cy="103.3" r="3.6"/><circle cx="661.7" cy="100.0" r="3.6"/><circle cx="669.4" cy="101.1" r="3.6"/><circle cx="631.7" cy="125.6" r="3.6"/><circle cx="619.4" cy="136.7" r="3.6"/><circle cx="612.8" cy="134.4" r="3.6"/><circle cx="624.4" cy="151.1" r="3.6"/><circle cx="624.4" cy="157.8" r="3.6"/><circle cx="624.4" cy="177.8" r="3.6"/><circle cx="624.4" cy="140.0" r="3.6"/><circle cx="632.2" cy="132.2" r="3.6"/><circle cx="614.4" cy="148.9" r="3.6"/><circle cx="600.0" cy="166.7" r="3.6"/><circle cx="596.7" cy="175.6" r="3.6"/><circle cx="591.1" cy="182.2" r="3.6"/><circle cx="591.1" cy="187.8" r="3.6"/><circle cx="618.9" cy="134.4" r="3.6"/><circle cx="612.2" cy="143.3" r="3.6"/><circle cx="608.9" cy="154.4" r="3.6"/><circle cx="583.3" cy="115.0" r="3.6"/><circle cx="616.7" cy="118.3" r="3.6"/><circle cx="625.0" cy="115.0" r="3.6"/><circle cx="625.0" cy="118.3" r="3.6"/><circle cx="630.0" cy="120.0" r="3.6"/><circle cx="633.3" cy="116.7" r="3.6"/><circle cx="640.0" cy="113.3" r="3.6"/><circle cx="646.7" cy="108.3" r="3.6"/><circle cx="650.0" cy="105.0" r="3.6"/><circle cx="673.3" cy="106.7" r="3.6"/><circle cx="626.7" cy="126.7" r="3.6"/><circle cx="635.0" cy="125.0" r="3.6"/><circle cx="638.3" cy="123.3" r="3.6"/><circle cx="641.7" cy="120.0" r="3.6"/><circle cx="645.0" cy="116.7" r="3.6"/><circle cx="651.7" cy="110.0" r="3.6"/><circle cx="658.3" cy="105.8" r="3.6"/><circle cx="663.3" cy="103.3" r="3.6"/><circle cx="670.0" cy="105.0" r="3.6"/><circle cx="625.0" cy="130.0" r="3.6"/><circle cx="630.0" cy="133.3" r="3.6"/><circle cx="623.3" cy="138.3" r="3.6"/><circle cx="638.3" cy="115.0" r="3.6"/></g>
<g fill="none" stroke="#ff1a1a" stroke-width="1.35"><circle cx="472.6" cy="256.9" r="3.6"/><circle cx="501.5" cy="245.3" r="3.6"/><circle cx="475.7" cy="262.5" r="3.6"/><circle cx="511.2" cy="231.8" r="3.6"/><circle cx="471.9" cy="263.8" r="3.6"/><circle cx="470.1" cy="269.9" r="3.6"/><circle cx="490.3" cy="249.3" r="3.6"/><circle cx="515.6" cy="232.0" r="3.6"/><circle cx="513.3" cy="230.1" r="3.6"/><circle cx="492.9" cy="246.0" r="3.6"/><circle cx="483.7" cy="251.8" r="3.6"/><circle cx="466.5" cy="263.6" r="3.6"/><circle cx="510.2" cy="239.6" r="3.6"/><circle cx="516.3" cy="228.0" r="3.6"/><circle cx="513.9" cy="222.0" r="3.6"/><circle cx="488.6" cy="250.9" r="3.6"/><circle cx="514.6" cy="236.0" r="3.6"/><circle cx="518.1" cy="226.4" r="3.6"/><circle cx="471.1" cy="266.6" r="3.6"/><circle cx="485.7" cy="258.0" r="3.6"/><circle cx="478.0" cy="257.2" r="3.6"/><circle cx="493.4" cy="249.2" r="3.6"/><circle cx="499.4" cy="246.9" r="3.6"/><circle cx="481.5" cy="257.4" r="3.6"/><circle cx="494.2" cy="240.4" r="3.6"/><circle cx="486.1" cy="245.7" r="3.6"/><circle cx="486.2" cy="252.7" r="3.6"/><circle cx="505.7" cy="230.4" r="3.6"/><circle cx="483.0" cy="254.2" r="3.6"/><circle cx="504.3" cy="233.4" r="3.6"/><circle cx="478.1" cy="265.4" r="3.6"/><circle cx="467.4" cy="268.3" r="3.6"/><circle cx="511.6" cy="237.6" r="3.6"/><circle cx="480.7" cy="253.4" r="3.6"/><circle cx="517.1" cy="223.0" r="3.6"/><circle cx="484.1" cy="248.2" r="3.6"/><circle cx="488.5" cy="254.2" r="3.6"/><circle cx="495.5" cy="244.2" r="3.6"/><circle cx="519.5" cy="230.0" r="3.6"/><circle cx="513.5" cy="233.6" r="3.6"/><circle cx="475.8" cy="256.7" r="3.6"/><circle cx="505.2" cy="241.7" r="3.6"/><circle cx="489.7" cy="246.5" r="3.6"/><circle cx="519.4" cy="223.5" r="3.6"/><circle cx="488.6" cy="256.9" r="3.6"/><circle cx="496.6" cy="239.0" r="3.6"/><circle cx="473.9" cy="269.1" r="3.6"/><circle cx="500.9" cy="234.0" r="3.6"/><circle cx="478.8" cy="262.6" r="3.6"/><circle cx="497.7" cy="249.4" r="3.6"/><circle cx="557.7" cy="190.8" r="3.6"/><circle cx="573.1" cy="184.2" r="3.6"/><circle cx="535.9" cy="216.0" r="3.6"/><circle cx="524.9" cy="218.5" r="3.6"/><circle cx="558.8" cy="181.5" r="3.6"/><circle cx="548.4" cy="200.7" r="3.6"/><circle cx="542.2" cy="209.0" r="3.6"/><circle cx="539.9" cy="204.5" r="3.6"/><circle cx="534.9" cy="205.2" r="3.6"/><circle cx="550.8" cy="195.8" r="3.6"/><circle cx="573.5" cy="180.7" r="3.6"/><circle cx="551.0" cy="191.0" r="3.6"/><circle cx="549.5" cy="204.6" r="3.6"/><circle cx="526.8" cy="210.8" r="3.6"/><circle cx="537.9" cy="213.3" r="3.6"/><circle cx="570.5" cy="172.7" r="3.6"/><circle cx="540.4" cy="214.2" r="3.6"/><circle cx="562.0" cy="197.6" r="3.6"/><circle cx="570.3" cy="184.3" r="3.6"/><circle cx="527.1" cy="217.2" r="3.6"/><circle cx="578.5" cy="181.8" r="3.6"/><circle cx="564.8" cy="193.1" r="3.6"/><circle cx="568.9" cy="176.5" r="3.6"/><circle cx="568.2" cy="188.5" r="3.6"/><circle cx="545.3" cy="207.3" r="3.6"/><circle cx="565.9" cy="183.3" r="3.6"/><circle cx="532.7" cy="221.0" r="3.6"/><circle cx="554.7" cy="188.6" r="3.6"/><circle cx="565.8" cy="178.1" r="3.6"/><circle cx="539.8" cy="208.3" r="3.6"/><circle cx="525.9" cy="225.2" r="3.6"/><circle cx="544.8" cy="211.1" r="3.6"/><circle cx="527.4" cy="220.4" r="3.6"/><circle cx="520.3" cy="218.6" r="3.6"/><circle cx="530.7" cy="217.2" r="3.6"/><circle cx="537.9" cy="203.2" r="3.6"/><circle cx="544.9" cy="193.0" r="3.6"/><circle cx="566.9" cy="180.6" r="3.6"/><circle cx="534.0" cy="207.9" r="3.6"/><circle cx="536.1" cy="218.9" r="3.6"/><circle cx="532.6" cy="214.6" r="3.6"/><circle cx="573.6" cy="187.0" r="3.6"/><circle cx="558.1" cy="184.8" r="3.6"/><circle cx="575.8" cy="183.9" r="3.6"/><circle cx="547.1" cy="197.6" r="3.6"/><circle cx="551.6" cy="199.9" r="3.6"/><circle cx="538.6" cy="198.7" r="3.6"/><circle cx="559.8" cy="186.9" r="3.6"/><circle cx="541.9" cy="197.8" r="3.6"/><circle cx="524.2" cy="216.1" r="3.6"/><circle cx="554.2" cy="203.2" r="3.6"/><circle cx="553.4" cy="196.2" r="3.6"/><circle cx="456.7" cy="270.0" r="3.6"/><circle cx="456.7" cy="283.3" r="3.6"/><circle cx="455.8" cy="293.3" r="3.6"/><circle cx="462.5" cy="288.3" r="3.6"/><circle cx="463.3" cy="278.3" r="3.6"/><circle cx="466.7" cy="270.8" r="3.6"/><circle cx="470.0" cy="285.0" r="3.6"/><circle cx="470.0" cy="290.0" r="3.6"/><circle cx="470.0" cy="296.7" r="3.6"/><circle cx="471.7" cy="248.3" r="3.6"/><circle cx="475.8" cy="250.0" r="3.6"/><circle cx="480.8" cy="268.3" r="3.6"/><circle cx="480.8" cy="273.3" r="3.6"/><circle cx="481.7" cy="278.3" r="3.6"/><circle cx="481.7" cy="285.0" r="3.6"/><circle cx="482.5" cy="290.0" r="3.6"/><circle cx="482.5" cy="295.0" r="3.6"/><circle cx="490.0" cy="243.3" r="3.6"/><circle cx="493.3" cy="260.8" r="3.6"/><circle cx="492.5" cy="277.5" r="3.6"/><circle cx="501.7" cy="243.3" r="3.6"/><circle cx="483.3" cy="299.2" r="3.6"/><circle cx="457.5" cy="272.5" r="3.6"/><circle cx="462.5" cy="269.2" r="3.6"/><circle cx="469.2" cy="273.3" r="3.6"/><circle cx="469.2" cy="305.0" r="3.6"/><circle cx="469.2" cy="310.0" r="3.6"/><circle cx="481.7" cy="263.3" r="3.6"/><circle cx="483.3" cy="270.0" r="3.6"/><circle cx="483.3" cy="275.0" r="3.6"/><circle cx="482.5" cy="281.7" r="3.6"/><circle cx="482.5" cy="301.7" r="3.6"/><circle cx="482.5" cy="308.3" r="3.6"/><circle cx="490.0" cy="261.1" r="3.6"/><circle cx="530.0" cy="205.0" r="3.6"/><circle cx="536.7" cy="200.0" r="3.6"/><circle cx="541.7" cy="195.0" r="3.6"/><circle cx="547.5" cy="189.2" r="3.6"/><circle cx="550.0" cy="183.3" r="3.6"/><circle cx="555.0" cy="180.8" r="3.6"/><circle cx="560.0" cy="178.3" r="3.6"/><circle cx="563.3" cy="173.3" r="3.6"/><circle cx="566.7" cy="170.0" r="3.6"/><circle cx="570.0" cy="166.7" r="3.6"/><circle cx="573.3" cy="163.3" r="3.6"/><circle cx="576.7" cy="160.0" r="3.6"/><circle cx="578.3" cy="155.0" r="3.6"/><circle cx="570.0" cy="156.7" r="3.6"/><circle cx="566.7" cy="161.7" r="3.6"/><circle cx="573.3" cy="173.3" r="3.6"/><circle cx="576.7" cy="178.3" r="3.6"/><circle cx="568.3" cy="183.3" r="3.6"/><circle cx="570.0" cy="190.0" r="3.6"/><circle cx="563.3" cy="191.7" r="3.6"/><circle cx="558.3" cy="198.3" r="3.6"/><circle cx="560.0" cy="203.3" r="3.6"/><circle cx="546.7" cy="205.0" r="3.6"/><circle cx="573.3" cy="201.7" r="3.6"/><circle cx="576.7" cy="196.7" r="3.6"/><circle cx="575.0" cy="205.0" r="3.6"/><circle cx="553.3" cy="193.3" r="3.6"/><circle cx="583.0" cy="143.6" r="3.6"/><circle cx="578.5" cy="147.4" r="3.6"/><circle cx="576.1" cy="146.5" r="3.6"/><circle cx="590.5" cy="115.1" r="3.6"/><circle cx="587.0" cy="131.3" r="3.6"/><circle cx="583.6" cy="159.8" r="3.6"/><circle cx="582.2" cy="157.7" r="3.6"/><circle cx="588.4" cy="136.5" r="3.6"/><circle cx="596.3" cy="141.9" r="3.6"/><circle cx="592.4" cy="118.1" r="3.6"/><circle cx="589.9" cy="119.4" r="3.6"/><circle cx="581.4" cy="128.6" r="3.6"/><circle cx="590.1" cy="151.5" r="3.6"/><circle cx="590.9" cy="112.9" r="3.6"/><circle cx="588.8" cy="144.2" r="3.6"/><circle cx="599.8" cy="118.2" r="3.6"/><circle cx="584.7" cy="149.6" r="3.6"/><circle cx="587.7" cy="114.1" r="3.6"/><circle cx="574.8" cy="159.1" r="3.6"/><circle cx="581.4" cy="145.1" r="3.6"/><circle cx="595.9" cy="132.7" r="3.6"/><circle cx="589.2" cy="141.1" r="3.6"/><circle cx="591.4" cy="158.6" r="3.6"/><circle cx="593.5" cy="121.2" r="3.6"/><circle cx="582.5" cy="122.7" r="3.6"/><circle cx="575.5" cy="153.0" r="3.6"/><circle cx="595.0" cy="123.5" r="3.6"/><circle cx="591.5" cy="135.3" r="3.6"/><circle cx="596.1" cy="128.9" r="3.6"/><circle cx="586.7" cy="145.3" r="3.6"/><circle cx="585.1" cy="114.9" r="3.6"/><circle cx="575.5" cy="148.7" r="3.6"/><circle cx="591.3" cy="138.1" r="3.6"/><circle cx="592.6" cy="151.0" r="3.6"/><circle cx="597.1" cy="121.5" r="3.6"/><circle cx="577.7" cy="150.3" r="3.6"/><circle cx="582.3" cy="148.1" r="3.6"/><circle cx="589.5" cy="132.9" r="3.6"/><circle cx="586.0" cy="156.6" r="3.6"/><circle cx="580.3" cy="132.6" r="3.6"/><circle cx="580.4" cy="155.5" r="3.6"/><circle cx="588.2" cy="129.0" r="3.6"/><circle cx="587.1" cy="124.6" r="3.6"/><circle cx="587.5" cy="119.5" r="3.6"/><circle cx="578.8" cy="144.7" r="3.6"/><circle cx="591.2" cy="124.8" r="3.6"/><circle cx="585.8" cy="159.9" r="3.6"/><circle cx="583.4" cy="136.0" r="3.6"/><circle cx="584.3" cy="133.0" r="3.6"/><circle cx="596.1" cy="111.0" r="3.6"/><circle cx="587.9" cy="155.3" r="3.6"/><circle cx="584.6" cy="128.9" r="3.6"/><circle cx="594.9" cy="146.2" r="3.6"/><circle cx="587.6" cy="148.8" r="3.6"/><circle cx="596.4" cy="114.5" r="3.6"/><circle cx="582.7" cy="119.9" r="3.6"/><circle cx="595.7" cy="136.5" r="3.6"/><circle cx="593.7" cy="114.2" r="3.6"/><circle cx="595.8" cy="154.0" r="3.6"/><circle cx="587.4" cy="138.8" r="3.6"/><circle cx="584.7" cy="117.4" r="3.6"/><circle cx="583.7" cy="151.4" r="3.6"/><circle cx="594.2" cy="134.9" r="3.6"/><circle cx="581.6" cy="163.7" r="3.6"/><circle cx="595.3" cy="151.5" r="3.6"/><circle cx="575.3" cy="139.4" r="3.6"/><circle cx="579.2" cy="159.3" r="3.6"/><circle cx="594.8" cy="148.6" r="3.6"/><circle cx="567.7" cy="164.3" r="3.6"/><circle cx="574.8" cy="135.9" r="3.6"/><circle cx="593.8" cy="155.7" r="3.6"/><circle cx="575.4" cy="142.6" r="3.6"/><circle cx="580.7" cy="141.2" r="3.6"/><circle cx="575.5" cy="130.6" r="3.6"/><circle cx="593.1" cy="128.5" r="3.6"/><circle cx="581.3" cy="150.7" r="3.6"/><circle cx="581.7" cy="137.6" r="3.6"/><circle cx="571.7" cy="154.3" r="3.6"/><circle cx="619.2" cy="51.7" r="3.6"/><circle cx="615.8" cy="55.8" r="3.6"/><circle cx="613.3" cy="56.7" r="3.6"/><circle cx="610.8" cy="59.2" r="3.6"/><circle cx="608.3" cy="61.7" r="3.6"/><circle cx="605.8" cy="65.8" r="3.6"/><circle cx="602.5" cy="66.7" r="3.6"/><circle cx="600.0" cy="68.3" r="3.6"/><circle cx="608.3" cy="71.7" r="3.6"/><circle cx="607.5" cy="74.2" r="3.6"/><circle cx="618.3" cy="64.2" r="3.6"/><circle cx="618.3" cy="68.3" r="3.6"/><circle cx="618.3" cy="72.5" r="3.6"/><circle cx="599.2" cy="73.3" r="3.6"/><circle cx="598.3" cy="77.5" r="3.6"/><circle cx="596.7" cy="80.8" r="3.6"/><circle cx="595.8" cy="83.3" r="3.6"/><circle cx="595.0" cy="85.8" r="3.6"/><circle cx="596.7" cy="87.5" r="3.6"/><circle cx="590.8" cy="89.2" r="3.6"/><circle cx="591.7" cy="92.5" r="3.6"/><circle cx="590.0" cy="95.0" r="3.6"/><circle cx="598.3" cy="90.0" r="3.6"/><circle cx="597.5" cy="93.3" r="3.6"/><circle cx="590.8" cy="100.0" r="3.6"/><circle cx="593.3" cy="98.3" r="3.6"/><circle cx="596.7" cy="101.7" r="3.6"/><circle cx="591.7" cy="105.0" r="3.6"/><circle cx="593.3" cy="108.3" r="3.6"/><circle cx="588.3" cy="108.3" r="3.6"/><circle cx="595.0" cy="70.0" r="3.6"/><circle cx="604.2" cy="70.0" r="3.6"/><circle cx="600.0" cy="82.5" r="3.6"/><circle cx="594.2" cy="95.8" r="3.6"/><circle cx="589.2" cy="102.5" r="3.6"/><circle cx="595.8" cy="105.0" r="3.6"/><circle cx="621.1" cy="45.0" r="3.6"/><circle cx="621.8" cy="38.8" r="3.6"/><circle cx="624.0" cy="29.2" r="3.6"/><circle cx="627.6" cy="20.4" r="3.6"/><circle cx="633.0" cy="13.5" r="3.6"/><circle cx="656.1" cy="17.1" r="3.6"/><circle cx="603.5" cy="64.0" r="3.6"/><circle cx="574.4" cy="200.0" r="3.6"/><circle cx="582.2" cy="200.0" r="3.6"/><circle cx="580.0" cy="212.2" r="3.6"/><circle cx="585.6" cy="212.2" r="3.6"/><circle cx="587.8" cy="215.6" r="3.6"/><circle cx="578.9" cy="216.7" r="3.6"/><circle cx="583.3" cy="180.0" r="3.6"/><circle cx="590.0" cy="182.2" r="3.6"/><circle cx="596.7" cy="173.3" r="3.6"/><circle cx="601.1" cy="164.4" r="3.6"/><circle cx="593.3" cy="170.0" r="3.6"/><circle cx="591.0" cy="163.0" r="3.6"/><circle cx="598.9" cy="163.3" r="3.6"/></g>
<line x1="51.67" y1="312.21" x2="360.33" y2="86.28" stroke="#000" stroke-width="5.6" stroke-dasharray="7.50 5.89"/>
<line x1="129.04" y1="303.98" x2="277.06" y2="155.22" stroke="#000" stroke-width="5.6" stroke-dasharray="7.55 5.93"/>
<line x1="371.52" y1="281.58" x2="673.18" y2="94.02" stroke="#000" stroke-width="5.6" stroke-dasharray="7.49 5.88"/>
<line x1="458.82" y1="275.74" x2="608.48" y2="148.66" stroke="#000" stroke-width="5.6" stroke-dasharray="7.55 5.93"/>
<g stroke="#000" stroke-width="2.5"><line x1="50.37" y1="318.70" x2="50.37" y2="313.20"/><line x1="55.00" y1="318.70" x2="55.00" y2="308.70"/><line x1="85.43" y1="318.70" x2="85.43" y2="313.20"/><line x1="103.24" y1="318.70" x2="103.24" y2="313.20"/><line x1="115.87" y1="318.70" x2="115.87" y2="313.20"/><line x1="125.67" y1="318.70" x2="125.67" y2="313.20"/><line x1="133.67" y1="318.70" x2="133.67" y2="313.20"/><line x1="140.44" y1="318.70" x2="140.44" y2="313.20"/><line x1="146.30" y1="318.70" x2="146.30" y2="313.20"/><line x1="151.47" y1="318.70" x2="151.47" y2="313.20"/><line x1="156.10" y1="318.70" x2="156.10" y2="308.70"/><line x1="186.53" y1="318.70" x2="186.53" y2="313.20"/><line x1="204.34" y1="318.70" x2="204.34" y2="313.20"/><line x1="216.97" y1="318.70" x2="216.97" y2="313.20"/><line x1="226.77" y1="318.70" x2="226.77" y2="313.20"/><line x1="234.77" y1="318.70" x2="234.77" y2="313.20"/><line x1="241.54" y1="318.70" x2="241.54" y2="313.20"/><line x1="247.40" y1="318.70" x2="247.40" y2="313.20"/><line x1="252.57" y1="318.70" x2="252.57" y2="313.20"/><line x1="257.20" y1="318.70" x2="257.20" y2="308.70"/><line x1="287.63" y1="318.70" x2="287.63" y2="313.20"/><line x1="305.44" y1="318.70" x2="305.44" y2="313.20"/><line x1="318.07" y1="318.70" x2="318.07" y2="313.20"/><line x1="327.87" y1="318.70" x2="327.87" y2="313.20"/><line x1="335.87" y1="318.70" x2="335.87" y2="313.20"/><line x1="342.64" y1="318.70" x2="342.64" y2="313.20"/><line x1="348.50" y1="318.70" x2="348.50" y2="313.20"/><line x1="353.67" y1="318.70" x2="353.67" y2="313.20"/><line x1="358.30" y1="318.70" x2="358.30" y2="308.70"/><line x1="48.60" y1="9.20" x2="58.40" y2="9.20"/><line x1="48.60" y1="44.53" x2="53.90" y2="44.53"/><line x1="48.60" y1="35.63" x2="53.90" y2="35.63"/><line x1="48.60" y1="29.32" x2="53.90" y2="29.32"/><line x1="48.60" y1="24.42" x2="53.90" y2="24.42"/><line x1="48.60" y1="20.41" x2="53.90" y2="20.41"/><line x1="48.60" y1="17.03" x2="53.90" y2="17.03"/><line x1="48.60" y1="14.10" x2="53.90" y2="14.10"/><line x1="48.60" y1="11.51" x2="53.90" y2="11.51"/><line x1="48.60" y1="59.75" x2="58.40" y2="59.75"/><line x1="48.60" y1="95.08" x2="53.90" y2="95.08"/><line x1="48.60" y1="86.18" x2="53.90" y2="86.18"/><line x1="48.60" y1="79.87" x2="53.90" y2="79.87"/><line x1="48.60" y1="74.97" x2="53.90" y2="74.97"/><line x1="48.60" y1="70.96" x2="53.90" y2="70.96"/><line x1="48.60" y1="67.58" x2="53.90" y2="67.58"/><line x1="48.60" y1="64.65" x2="53.90" y2="64.65"/><line x1="48.60" y1="62.06" x2="53.90" y2="62.06"/><line x1="48.60" y1="110.30" x2="58.40" y2="110.30"/><line x1="48.60" y1="145.63" x2="53.90" y2="145.63"/><line x1="48.60" y1="136.73" x2="53.90" y2="136.73"/><line x1="48.60" y1="130.42" x2="53.90" y2="130.42"/><line x1="48.60" y1="125.52" x2="53.90" y2="125.52"/><line x1="48.60" y1="121.51" x2="53.90" y2="121.51"/><line x1="48.60" y1="118.13" x2="53.90" y2="118.13"/><line x1="48.60" y1="115.20" x2="53.90" y2="115.20"/><line x1="48.60" y1="112.61" x2="53.90" y2="112.61"/><line x1="48.60" y1="160.85" x2="58.40" y2="160.85"/><line x1="48.60" y1="196.18" x2="53.90" y2="196.18"/><line x1="48.60" y1="187.28" x2="53.90" y2="187.28"/><line x1="48.60" y1="180.97" x2="53.90" y2="180.97"/><line x1="48.60" y1="176.07" x2="53.90" y2="176.07"/><line x1="48.60" y1="172.06" x2="53.90" y2="172.06"/><line x1="48.60" y1="168.68" x2="53.90" y2="168.68"/><line x1="48.60" y1="165.75" x2="53.90" y2="165.75"/><line x1="48.60" y1="163.16" x2="53.90" y2="163.16"/><line x1="48.60" y1="211.40" x2="58.40" y2="211.40"/><line x1="48.60" y1="246.73" x2="53.90" y2="246.73"/><line x1="48.60" y1="237.83" x2="53.90" y2="237.83"/><line x1="48.60" y1="231.52" x2="53.90" y2="231.52"/><line x1="48.60" y1="226.62" x2="53.90" y2="226.62"/><line x1="48.60" y1="222.61" x2="53.90" y2="222.61"/><line x1="48.60" y1="219.23" x2="53.90" y2="219.23"/><line x1="48.60" y1="216.30" x2="53.90" y2="216.30"/><line x1="48.60" y1="213.71" x2="53.90" y2="213.71"/><line x1="48.60" y1="261.95" x2="58.40" y2="261.95"/><line x1="48.60" y1="297.28" x2="53.90" y2="297.28"/><line x1="48.60" y1="288.38" x2="53.90" y2="288.38"/><line x1="48.60" y1="282.07" x2="53.90" y2="282.07"/><line x1="48.60" y1="277.17" x2="53.90" y2="277.17"/><line x1="48.60" y1="273.16" x2="53.90" y2="273.16"/><line x1="48.60" y1="269.78" x2="53.90" y2="269.78"/><line x1="48.60" y1="266.85" x2="53.90" y2="266.85"/><line x1="48.60" y1="264.26" x2="53.90" y2="264.26"/><line x1="48.60" y1="312.50" x2="58.40" y2="312.50"/><line x1="48.60" y1="317.40" x2="53.90" y2="317.40"/><line x1="48.60" y1="314.81" x2="53.90" y2="314.81"/></g>
<rect x="48.60" y="2.70" width="316.80" height="316.00" fill="none" stroke="#000" stroke-width="2.5"/>
<g stroke="#000" stroke-width="2.5"><line x1="367.37" y1="319.40" x2="367.37" y2="313.90"/><line x1="372.00" y1="319.40" x2="372.00" y2="309.40"/><line x1="402.46" y1="319.40" x2="402.46" y2="313.90"/><line x1="420.28" y1="319.40" x2="420.28" y2="313.90"/><line x1="432.93" y1="319.40" x2="432.93" y2="313.90"/><line x1="442.74" y1="319.40" x2="442.74" y2="313.90"/><line x1="450.75" y1="319.40" x2="450.75" y2="313.90"/><line x1="457.52" y1="319.40" x2="457.52" y2="313.90"/><line x1="463.39" y1="319.40" x2="463.39" y2="313.90"/><line x1="468.57" y1="319.40" x2="468.57" y2="313.90"/><line x1="473.20" y1="319.40" x2="473.20" y2="309.40"/><line x1="503.66" y1="319.40" x2="503.66" y2="313.90"/><line x1="521.48" y1="319.40" x2="521.48" y2="313.90"/><line x1="534.13" y1="319.40" x2="534.13" y2="313.90"/><line x1="543.94" y1="319.40" x2="543.94" y2="313.90"/><line x1="551.95" y1="319.40" x2="551.95" y2="313.90"/><line x1="558.72" y1="319.40" x2="558.72" y2="313.90"/><line x1="564.59" y1="319.40" x2="564.59" y2="313.90"/><line x1="569.77" y1="319.40" x2="569.77" y2="313.90"/><line x1="574.40" y1="319.40" x2="574.40" y2="309.40"/><line x1="604.86" y1="319.40" x2="604.86" y2="313.90"/><line x1="622.68" y1="319.40" x2="622.68" y2="313.90"/><line x1="635.33" y1="319.40" x2="635.33" y2="313.90"/><line x1="645.14" y1="319.40" x2="645.14" y2="313.90"/><line x1="653.15" y1="319.40" x2="653.15" y2="313.90"/><line x1="659.92" y1="319.40" x2="659.92" y2="313.90"/><line x1="665.79" y1="319.40" x2="665.79" y2="313.90"/><line x1="670.97" y1="319.40" x2="670.97" y2="313.90"/><line x1="675.60" y1="319.40" x2="675.60" y2="309.40"/><line x1="365.60" y1="14.71" x2="370.90" y2="14.71"/><line x1="365.60" y1="27.40" x2="375.40" y2="27.40"/><line x1="365.60" y1="56.86" x2="370.90" y2="56.86"/><line x1="365.60" y1="49.44" x2="370.90" y2="49.44"/><line x1="365.60" y1="44.17" x2="370.90" y2="44.17"/><line x1="365.60" y1="40.09" x2="370.90" y2="40.09"/><line x1="365.60" y1="36.75" x2="370.90" y2="36.75"/><line x1="365.60" y1="33.93" x2="370.90" y2="33.93"/><line x1="365.60" y1="31.48" x2="370.90" y2="31.48"/><line x1="365.60" y1="29.33" x2="370.90" y2="29.33"/><line x1="365.60" y1="69.55" x2="375.40" y2="69.55"/><line x1="365.60" y1="99.01" x2="370.90" y2="99.01"/><line x1="365.60" y1="91.59" x2="370.90" y2="91.59"/><line x1="365.60" y1="86.32" x2="370.90" y2="86.32"/><line x1="365.60" y1="82.24" x2="370.90" y2="82.24"/><line x1="365.60" y1="78.90" x2="370.90" y2="78.90"/><line x1="365.60" y1="76.08" x2="370.90" y2="76.08"/><line x1="365.60" y1="73.63" x2="370.90" y2="73.63"/><line x1="365.60" y1="71.48" x2="370.90" y2="71.48"/><line x1="365.60" y1="111.70" x2="375.40" y2="111.70"/><line x1="365.60" y1="141.16" x2="370.90" y2="141.16"/><line x1="365.60" y1="133.74" x2="370.90" y2="133.74"/><line x1="365.60" y1="128.47" x2="370.90" y2="128.47"/><line x1="365.60" y1="124.39" x2="370.90" y2="124.39"/><line x1="365.60" y1="121.05" x2="370.90" y2="121.05"/><line x1="365.60" y1="118.23" x2="370.90" y2="118.23"/><line x1="365.60" y1="115.78" x2="370.90" y2="115.78"/><line x1="365.60" y1="113.63" x2="370.90" y2="113.63"/><line x1="365.60" y1="153.85" x2="375.40" y2="153.85"/><line x1="365.60" y1="183.31" x2="370.90" y2="183.31"/><line x1="365.60" y1="175.89" x2="370.90" y2="175.89"/><line x1="365.60" y1="170.62" x2="370.90" y2="170.62"/><line x1="365.60" y1="166.54" x2="370.90" y2="166.54"/><line x1="365.60" y1="163.20" x2="370.90" y2="163.20"/><line x1="365.60" y1="160.38" x2="370.90" y2="160.38"/><line x1="365.60" y1="157.93" x2="370.90" y2="157.93"/><line x1="365.60" y1="155.78" x2="370.90" y2="155.78"/><line x1="365.60" y1="196.00" x2="375.40" y2="196.00"/><line x1="365.60" y1="225.46" x2="370.90" y2="225.46"/><line x1="365.60" y1="218.04" x2="370.90" y2="218.04"/><line x1="365.60" y1="212.77" x2="370.90" y2="212.77"/><line x1="365.60" y1="208.69" x2="370.90" y2="208.69"/><line x1="365.60" y1="205.35" x2="370.90" y2="205.35"/><line x1="365.60" y1="202.53" x2="370.90" y2="202.53"/><line x1="365.60" y1="200.08" x2="370.90" y2="200.08"/><line x1="365.60" y1="197.93" x2="370.90" y2="197.93"/><line x1="365.60" y1="238.15" x2="375.40" y2="238.15"/><line x1="365.60" y1="267.61" x2="370.90" y2="267.61"/><line x1="365.60" y1="260.19" x2="370.90" y2="260.19"/><line x1="365.60" y1="254.92" x2="370.90" y2="254.92"/><line x1="365.60" y1="250.84" x2="370.90" y2="250.84"/><line x1="365.60" y1="247.50" x2="370.90" y2="247.50"/><line x1="365.60" y1="244.68" x2="370.90" y2="244.68"/><line x1="365.60" y1="242.23" x2="370.90" y2="242.23"/><line x1="365.60" y1="240.08" x2="370.90" y2="240.08"/><line x1="365.60" y1="280.30" x2="375.40" y2="280.30"/><line x1="365.60" y1="309.76" x2="370.90" y2="309.76"/><line x1="365.60" y1="302.34" x2="370.90" y2="302.34"/><line x1="365.60" y1="297.07" x2="370.90" y2="297.07"/><line x1="365.60" y1="292.99" x2="370.90" y2="292.99"/><line x1="365.60" y1="289.65" x2="370.90" y2="289.65"/><line x1="365.60" y1="286.83" x2="370.90" y2="286.83"/><line x1="365.60" y1="284.38" x2="370.90" y2="284.38"/><line x1="365.60" y1="282.23" x2="370.90" y2="282.23"/></g>
<rect x="365.60" y="2.50" width="317.00" height="316.90" fill="none" stroke="#000" stroke-width="2.5"/>
<text x="75.2" y="42.9" font-size="26" fill="#000">a</text>
<text x="406" y="45.5" font-size="26" fill="#000">b</text>
<circle cx="173.5" cy="45.3" r="6" fill="none" stroke="#1e3ed2" stroke-width="1.3"/>
<circle cx="173.5" cy="67" r="6" fill="none" stroke="#ff1a1a" stroke-width="1.3"/>
<text x="200" y="51.7" font-size="18" textLength="46" lengthAdjust="spacingAndGlyphs">TRPL</text>
<text x="199.6" y="73.3" font-size="18" textLength="43.6" lengthAdjust="spacingAndGlyphs">DT/T</text>
<circle cx="489" cy="54.7" r="6" fill="none" stroke="#1e3ed2" stroke-width="1.3"/>
<circle cx="489" cy="76.3" r="6" fill="none" stroke="#ff1a1a" stroke-width="1.3"/>
<text x="517" y="61" font-size="18" textLength="44" lengthAdjust="spacingAndGlyphs">TRPL</text>
<text x="516.5" y="82.4" font-size="18" textLength="42.6" lengthAdjust="spacingAndGlyphs">DT/T</text>
<g fill="#1840d0" transform="translate(0,0)"><text x="89.6" y="147.4" font-size="22.5" textLength="51.5" lengthAdjust="spacingAndGlyphs">α + 1</text><rect x="84.8" y="150.6" width="60.7" height="2.7"/><text x="109.6" y="172.6" font-size="23">2</text><rect x="154.3" y="149.2" width="11.7" height="2.2"/><rect x="154.3" y="153.2" width="11.7" height="2.2"/><rect x="172.7" y="150.6" width="30" height="2.7"/><text x="181.2" y="146.1" font-size="22.5">3</text><text x="180.5" y="172.6" font-size="23">2</text></g>
<g fill="#1840d0" transform="translate(318.7,-2.6)"><text x="89.6" y="147.4" font-size="22.5" textLength="51.5" lengthAdjust="spacingAndGlyphs">α + 1</text><rect x="84.8" y="150.6" width="60.7" height="2.7"/><text x="109.6" y="172.6" font-size="23">2</text><rect x="154.3" y="149.2" width="11.7" height="2.2"/><rect x="154.3" y="153.2" width="11.7" height="2.2"/><rect x="172.7" y="150.6" width="30" height="2.7"/><text x="181.2" y="146.1" font-size="22.5">3</text><text x="180.5" y="172.6" font-size="23">2</text></g>
<text x="250.8" y="237" font-size="20.5" fill="#ff1a1a" textLength="53" lengthAdjust="spacingAndGlyphs">α = 2</text>
<text x="522.3" y="257.8" font-size="20.5" fill="#ff1a1a" textLength="52" lengthAdjust="spacingAndGlyphs">α = 2</text>
<text x="292.5" y="291.3" font-size="26" textLength="49.5" lengthAdjust="spacingAndGlyphs">80K</text>
<text x="599.5" y="290.1" font-size="26" textLength="65" lengthAdjust="spacingAndGlyphs">300K</text>
<text x="92" y="353.4" font-size="26.5" textLength="230" lengthAdjust="spacingAndGlyphs">Normalized DT, PL</text>
<text x="409" y="353.4" font-size="26.5" textLength="230" lengthAdjust="spacingAndGlyphs">Normalized DT, PL</text>
<text transform="translate(21.3,260.3) rotate(-90)" x="0" y="0" font-size="25" textLength="230" lengthAdjust="spacingAndGlyphs">d(DT)/dt, d(PL)/dt</text>
</svg></body></html>
